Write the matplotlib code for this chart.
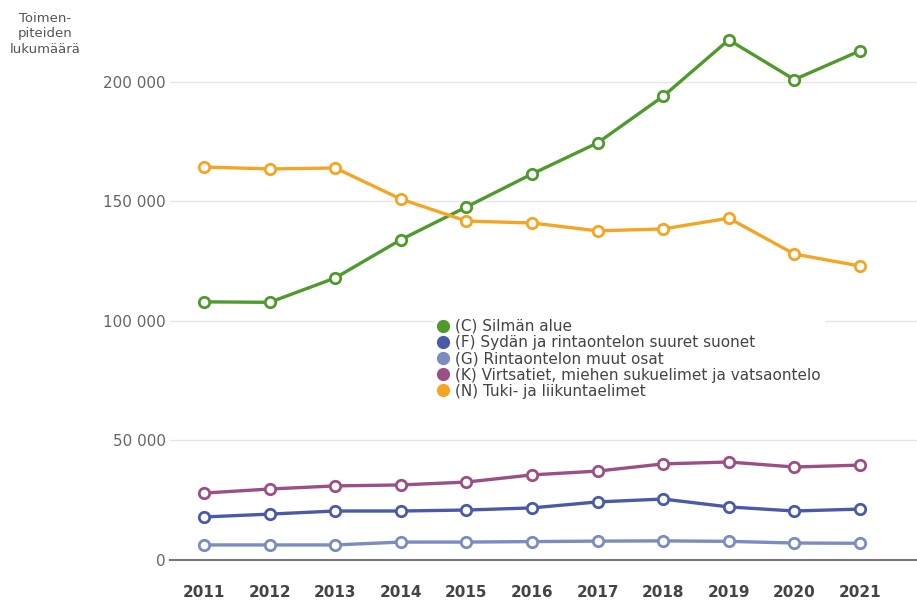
import matplotlib
matplotlib.use("Agg")
import matplotlib.pyplot as plt
from matplotlib.ticker import FuncFormatter

years = [2011, 2012, 2013, 2014, 2015, 2016, 2017, 2018, 2019, 2020, 2021]

silma = [108000, 107800, 118000, 134000, 147700, 161500, 174500, 194000, 217600, 201000, 213000]
sydan = [18000, 19200, 20500, 20500, 20900, 21800, 24300, 25500, 22200, 20500, 21300]
rinta = [6300, 6300, 6300, 7500, 7500, 7700, 7900, 8000, 7800, 7100, 7000]
virtsa = [28000, 29700, 31000, 31400, 32600, 35600, 37200, 40200, 41000, 38900, 39700]
tuki = [164400, 163600, 164000, 151000, 141800, 141000, 137700, 138500, 143000, 128000, 123000]

labels = ["(C) Silmän alue",
          "(F) Sydän ja rintaontelon suuret suonet",
          "(G) Rintaontelon muut osat",
          "(K) Virtsatiet, miehen sukuelimet ja vatsaontelo",
          "(N) Tuki- ja liikuntaelimet"]
colors = ["#4f9a2c", "#4a5aa8", "#7a8cc0", "#9b4f86", "#f5a524"]

fig = plt.figure(figsize=(9.17, 6.02), dpi=100)
ax = fig.add_axes([170 / 917, 42 / 602, 1 - 170 / 917, (560 - 15) / 602])

for vals, lab, c in zip([silma, sydan, rinta, virtsa, tuki], labels, colors):
    ax.plot(years, vals, color=c, lw=2.4, marker="o", ms=7.5,
            markerfacecolor="white", markeredgecolor=c, markeredgewidth=2, label=lab)

ax.set_xlim(2010.48, 2021.87)
ax.set_ylim(0, 228000)
ax.set_yticks([0, 50000, 100000, 150000, 200000])
ax.yaxis.set_major_formatter(FuncFormatter(lambda v, p: f"{int(v):,}".replace(",", " ")))
ax.set_xticks(years)
ax.grid(axis="y", color="#e6e6e6", lw=1)
ax.set_axisbelow(True)
for s in ["top", "right", "left"]:
    ax.spines[s].set_visible(False)
ax.spines["bottom"].set_color("#777777")
ax.spines["bottom"].set_linewidth(1.5)
ax.tick_params(axis="y", length=0, pad=3, labelsize=11, labelcolor="#666666")
ax.tick_params(axis="x", length=0, pad=18, labelsize=11, labelcolor="#444444")
for t in ax.get_xticklabels():
    t.set_fontweight("bold")

fig.text(45 / 917, 1 - 12 / 602, "Toimen-\npiteiden\nlukumäärä", ha="center", va="top",
         fontsize=9.5, color="#555555", linespacing=1.25)

leg = ax.legend(loc="upper left", bbox_to_anchor=(0.345, 0.462), frameon=True,
                fontsize=11, handlelength=0.6, handletextpad=0.5, labelspacing=0.08,
                borderpad=0.2, markerscale=1)
leg.get_frame().set_edgecolor("white")
leg.get_frame().set_facecolor("white")
leg.get_frame().set_alpha(1)
for h in leg.legend_handles:
    h.set_linestyle("none")
    h.set_markerfacecolor(h.get_color())
for t in leg.get_texts():
    t.set_color("#444444")

fig.savefig("out.png", dpi=100)
